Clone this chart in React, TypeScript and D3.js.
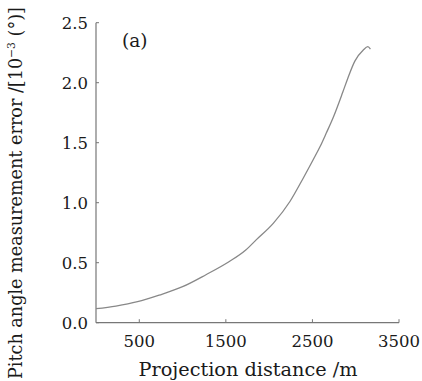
import React from "react";
import * as d3 from "d3";

const distances = [0, 230, 480, 730, 1000, 1270, 1540, 1730, 1850, 2050, 2240, 2390, 2510, 2590, 2660, 2740, 2850, 2910, 2990, 3085, 3140, 3170];
const errors = [0.117, 0.139, 0.175, 0.23, 0.3, 0.4, 0.51, 0.606, 0.69, 0.83, 1.01, 1.2, 1.36, 1.47, 1.58, 1.71, 1.92, 2.04, 2.18, 2.27, 2.3, 2.28];
const xTicks = [500, 1500, 2500, 3500];
const yTicks = [0, 0.5, 1.0, 1.5, 2.0, 2.5];

const W = 422;
const H = 381;
const FONT = "'DejaVu Serif', 'Liberation Serif', serif";

export default function App() {
  const x = d3.scaleLinear().domain([0, 3500]).range([96, 399]);
  const y = d3.scaleLinear().domain([0, 2.5]).range([322.7, 22.7]);
  const data = distances.map((d, i) => [d, errors[i]] as [number, number]);
  const line = d3
    .line<[number, number]>()
    .x((d) => x(d[0]))
    .y((d) => y(d[1]))
    .curve(d3.curveMonotoneX);
  const axisColor = "#777";
  const textColor = "#1a1a1a";
  return (
    <svg
      width={W}
      height={H}
      style={{ position: "absolute", left: 0, top: 0, background: "#fff" }}
      fontFamily={FONT}
    >
      <line x1={x(0)} x2={x(0)} y1={y(2.5)} y2={y(0)} stroke={axisColor} strokeWidth={1.2} />
      <line x1={x(0)} x2={x(3500)} y1={y(0)} y2={y(0)} stroke={axisColor} strokeWidth={1.2} />
      {yTicks.map((t) => (
        <g key={"y" + t}>
          <line x1={x(0)} x2={x(0) + 3} y1={y(t)} y2={y(t)} stroke={axisColor} strokeWidth={1} />
          <text x={88} y={y(t)} dy="0.36em" textAnchor="end" fontSize={16.5} fill={textColor}>
            {t.toFixed(1)}
          </text>
        </g>
      ))}
      {xTicks.map((t) => (
        <g key={"x" + t}>
          <line x1={x(t)} x2={x(t)} y1={y(0)} y2={y(0) - 3.5} stroke={axisColor} strokeWidth={1} />
          <text x={x(t)} y={347} textAnchor="middle" fontSize={16.5} fill={textColor}>
            {t}
          </text>
        </g>
      ))}
      <path d={line(data) || ""} fill="none" stroke="#888" strokeWidth={1.3} />
      <text x={122} y={47} fontSize={18.5} fill={textColor}>(a)</text>
      <text x={248} y={376} textAnchor="middle" fontSize={18} fill={textColor} textLength={219} lengthAdjust="spacingAndGlyphs">
        Projection distance /m
      </text>
      <text
        transform={`translate(22, 193) rotate(-90)`}
        textAnchor="middle"
        fontSize={18}
        fill={textColor}
        textLength={372}
        lengthAdjust="spacingAndGlyphs"
      >
        Pitch angle measurement error /[10
        <tspan fontSize={11} dy={-7}>−3</tspan>
        <tspan dy={7}> (°)]</tspan>
      </text>
    </svg>
  );
}
